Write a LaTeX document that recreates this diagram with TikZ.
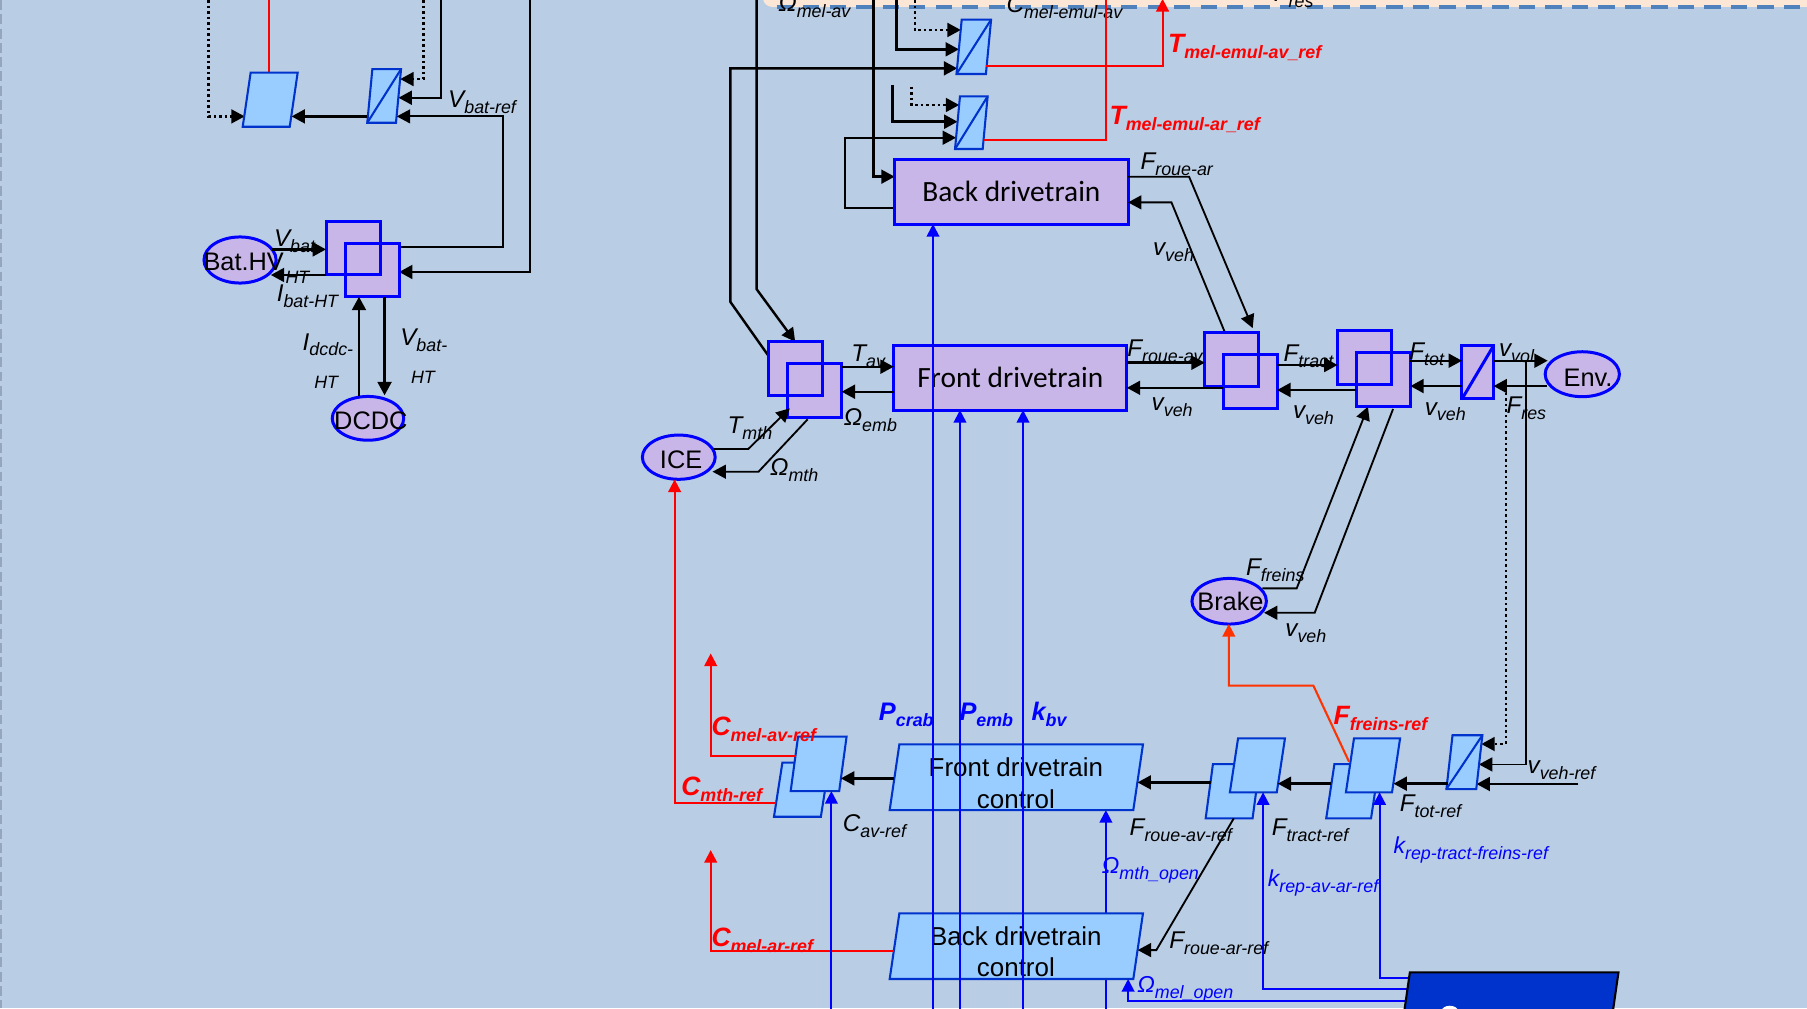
\documentclass[tikz,border=0pt]{standalone}
\usepackage{fontspec}
\setmainfont{Liberation Sans}
\newfontfamily\carl{Carlito}
\usetikzlibrary{arrows.meta,shapes.geometric}
\definecolor{bgc}{RGB}{185,205,229}
\definecolor{purp}{RGB}{200,182,232}
\definecolor{lblue}{RGB}{153,204,255}
\definecolor{pbord}{RGB}{0,0,255}
\definecolor{qbord}{RGB}{0,51,204}
\definecolor{lnblue}{RGB}{0,0,255}
\definecolor{lnred}{RGB}{255,0,0}
\definecolor{lnorange}{RGB}{255,51,0}
\definecolor{peach}{RGB}{252,231,214}
\definecolor{dashb}{RGB}{79,129,189}
\definecolor{dkblue}{RGB}{0,51,204}
\definecolor{edgegray}{RGB}{150,165,190}
\newcommand\sbs[1]{\raisebox{-2.6pt}{\fontsize{7.75}{9}\selectfont #1}}
\tikzset{
 ahead/.style={-{Triangle[length=5.8pt,width=6pt]}},
 arr/.style={ahead, line width=1.05pt},
 tline/.style={ahead, line width=0.8pt},
 dotl/.style={ahead, line width=1pt, dash pattern=on 1.1pt off 1.3pt},
 cpl/.style={draw=pbord, fill=purp, line width=1.3pt, minimum width=23.4pt, minimum height=23.4pt, inner sep=0pt, outer sep=0pt},
 pbox/.style={draw=pbord, fill=purp, line width=1.3pt, inner sep=0pt, outer sep=0pt},
 ell/.style={ellipse, draw=pbord, fill=purp, line width=1.3pt, inner sep=0pt, outer sep=0pt},
 etxt/.style={anchor=base, inner sep=0pt, font=\fontsize{11}{13}\selectfont},
 pgram/.style={draw=qbord, fill=lblue, line width=0.9pt, line join=miter},
 redl/.style={draw=lnred, line width=0.9pt, -{Triangle[length=5.5pt,width=5.5pt]}},
 bluel/.style={draw=lnblue, line width=0.9pt, -{Triangle[length=5.5pt,width=5.5pt]}},
 lbl/.style={anchor=base west, inner sep=0pt, font=\fontsize{10.5}{12}\selectfont\itshape},
 slbl/.style={lbl, font=\fontsize{7.75}{9}\selectfont\itshape},
 rlbl/.style={lbl, text=lnred, font=\fontsize{11.5}{13}\selectfont\bfseries\itshape},
 blbl/.style={lbl, text=lnblue, font=\fontsize{10}{12}\selectfont\itshape},
 bblbl/.style={lbl, text=lnblue, font=\fontsize{11}{13}\selectfont\bfseries\itshape},
 ctxt/.style={anchor=base, inner sep=0pt, font=\fontsize{11.25}{13}\selectfont},
}
% parallelogram: name, tlx, trx, ytop, ybot, shift of bottom to the left
\newcommand\pgm[6]{\draw[pgram] (#2,#4) coordinate (#1-tl) -- (#3,#4) coordinate (#1-tr) -- ({#3-#6},#5) coordinate (#1-br) -- ({#2-#6},#5) coordinate (#1-bl) -- cycle;}
\newcommand\cnv[6]{\pgm{#1}{#2}{#3}{#4}{#5}{#6}\draw[qbord, line width=0.9pt] (#1-bl) -- (#1-tr);}
\begin{document}
\begin{tikzpicture}[x=0.5pt,y=-0.5pt]
\useasboundingbox (0,0) rectangle (1568,875);
\clip (0,0) rectangle (1568,875);
\fill[bgc] (0,0) rectangle (1568,875);
\draw[edgegray, line width=0.8pt, dash pattern=on 4.3pt off 1.9pt] (0.8,0) -- (0.8,875);
% top band
\fill[peach, rounded corners=4pt] (662,-20) rectangle (1580,6);
\draw[dashb, line width=1.5pt, dash pattern=on 7pt off 4.5pt] (674,6) -- (1568,6);
\node[lbl] (tomav) at (675,10) {Ω\sbs{mel-av}};
\node[lbl] (tcme) at (873,11) {C\sbs{mel-emul-av}};
\node[lbl] (tfres) at (1105,1) {F\sbs{res}};

% ===== left cluster =====
\draw[dotl] (181,0) -- (181,101) -- (212.3,101);
\draw[redl,-] (233.5,0) -- (233.5,63);
\pgm{pa}{217.5}{258.3}{63}{110}{6.9}
\cnv{pb}{323.1}{348}{60}{106.5}{4.4}
\draw[arr] (318.6,101) -- (253,101);
\draw[dotl] (367.6,0) -- (367.6,68.6) -- (347.3,68.6);
\draw[arr] (382.5,0) -- (382.5,84.8) -- (345.8,84.8);
\draw[tline] (346.3,214.6) -- (436.6,214.6) -- (436.6,101) -- (344.3,101);
\draw[arr] (460,0) -- (460,236) -- (346.3,236);
\node[cpl] (ca) at (306.35,215.2) {};
\node[cpl] (cb) at (322.9,234.3) {};
\draw[pbord, line width=1.3pt] (ca.south west) rectangle (ca.north east);
\node[ell, minimum width=31.3pt, minimum height=20pt] (bat) at (208.3,225.6) {};
\node[etxt] (battxt) at (211.5,234.3) {Bat.HV};
\node[ell, minimum width=31pt, minimum height=19pt] (dcdc) at (319.3,363) {};
\node[etxt] (dcdctxt) at (321.8,373.1) {DCDC};
\draw[arr] (236,216.4) -- (282.9,216.4);
\draw[arr] (283,238.6) -- (235,238.6);
\draw[arr] (311.5,344) -- (311.5,257.5);
\draw[arr] (333.7,257.5) -- (333.7,343);

% ===== top middle =====
\draw[arr] (656.6,0) -- (656.6,251) -- (690,296.5);
\draw[arr] (667,309) -- (633.8,262) -- (633.8,59.3) -- (830.6,59.3);
\draw[arr] (758,0) -- (758,153.3) -- (776.3,153.3);
\draw[dotl] (794,0) -- (794,26) -- (833.7,26);
\draw[arr] (778,0) -- (778,42.8) -- (832.1,42.8);
\draw[dotl] (791,75.2) -- (791,91.1) -- (832.3,91.1);
\draw[arr] (774.6,73.8) -- (774.6,105.6) -- (830.9,105.6);
\draw[tline] (776.3,180.8) -- (733,180.8) -- (733,119.5) -- (829.6,119.5);
\cnv{pc}{834.5}{860}{17}{64.2}{4.5}
\cnv{pd}{833}{857}{83.6}{129.3}{4.3}
\draw[redl] (855.7,57.3) -- (1008.8,57.3) -- (1008.8,-1);
\draw[redl,-] (854,121.5) -- (959.6,121.5) -- (959.6,0);
\node[pbox, minimum width=101.25pt, minimum height=28.1pt, font=\carl\fontsize{12.75}{15}\selectfont] (bd) at (877.55,166.3) {Back drivetrain};
\draw[tline] (bd.east |- 0,153.3) -- (1031.8,153.3) -- (1087,284.7);
\draw[tline] (1062.7,288) -- (1016.5,175.6) -- (bd.east |- 0,175.6);

% ===== front drivetrain row =====
\node[cpl] (da) at (690.3,319.9) {};
\node[cpl] (db) at (706.95,339) {};
\draw[pbord, line width=1.3pt] (da.south west) rectangle (da.north east);
\node[pbox, minimum width=101.15pt, minimum height=27.9pt, font=\carl\fontsize{12.75}{15}\selectfont] (fd) at (876.65,327.9) {Front drivetrain};
\node[ell, minimum width=31.6pt, minimum height=19.2pt] (ice) at (589,396.7) {};
\node[etxt] (icetxt) at (591,406.4) {ICE};
\draw[arr] (db.east |- 0,318.2) -- (fd.west |- 0,318.2);
\draw[arr] (fd.west |- 0,339.9) -- (db.east |- 0,339.9);
\draw[tline] (619.4,389.6) -- (649.3,389.6) -- (685.3,354.3);
\draw[tline] (700.8,363.9) -- (658.2,409.3) -- (618.3,409.3);

\node[cpl] (cc) at (1068.85,311.95) {};
\node[cpl] (cd) at (1084.8,331.2) {};
\draw[pbord, line width=1.3pt] (cc.south west) rectangle (cc.north east);
\node[cpl] (ce) at (1184.05,310.1) {};
\node[cpl] (cf) at (1200.4,329.05) {};
\draw[pbord, line width=1.3pt] (ce.south west) rectangle (ce.north east);
\draw[arr] (fd.east |- 0,314.7) -- (cc.west |- 0,314.7);
\draw[arr] (cd.west |- 0,336.5) -- (fd.east |- 0,336.5);
\draw[arr] (cd.east |- 0,316.7) -- (ce.west |- 0,316.7);
\draw[arr] (cf.west |- 0,338.4) -- (cd.east |- 0,338.4);
\node[pbox, minimum width=13.7pt, minimum height=23.1pt] (sz) at (1282.3,323.1) {};
\draw[pbord, line width=1.3pt] (sz.south west) -- (sz.north east);
\node[ell, minimum width=32.2pt, minimum height=19.5pt] (env) at (1373,324.7) {};
\node[etxt] (envtxt) at (1378,335) {Env.};
\draw[arr] (cf.east |- 0,313) -- (sz.west |- 0,313);
\draw[arr] (sz.west |- 0,335) -- (cf.east |- 0,335);
\draw[arr] (sz.east |- 0,313) -- (1343,313);
\draw[arr] (1342,335) -- (sz.east |- 0,335);
\node[ell, minimum width=32.3pt, minimum height=19.8pt] (brake) at (1066.6,521.7) {};
\node[etxt] (braketxt) at (1067.7,530) {Brake};
\draw[tline] (1095.4,510.5) -- (1125.2,510.5) -- (1187,352.9);
\draw[tline] (1208.8,354.9) -- (1140.8,531.7) -- (1096.8,531.7);

% ===== controls =====
\draw[dotl] (1306.5,336) -- (1306.5,645.6) -- (1285.4,645.6);
\draw[tline] (1324.5,313) -- (1324.5,663.3) -- (1283.3,663.3);
\draw[arr] (1369.5,680.3) -- (1281.3,680.3);
\cnv{sv}{1260.4}{1286.3}{638}{684.7}{5.3}
\pgm{ra}{1157.9}{1196.8}{663}{710.1}{7.1}
\pgm{rb}{1174.9}{1214.9}{640.7}{687.5}{7.0}
\pgm{qa}{1052.5}{1093.2}{663}{710.1}{6.3}
\pgm{qb}{1074.3}{1115}{640.7}{687.5}{7.1}
\draw[arr] (1256.4,680) -- (1209.2,680);
\draw[arr] (1155.3,680) -- (1108.8,680);
\draw[draw=lnorange, line width=0.9pt, -{Triangle[length=5.5pt,width=5.5pt]}] (1170.6,661) -- (1139.7,595) -- (1066.3,595) -- (1066.3,541.5);

\draw[bluel] (959.6,880) -- (959.6,702.9);
\pgm{fc}{780.4}{991.8}{645.9}{702.9}{8.4}
\node[ctxt] (fct1) at (881.5,674) {Front drivetrain};
\node[ctxt] (fct2) at (881.5,701.4) {control};
\pgm{bc}{780.4}{991.8}{792.5}{849.5}{8.4}
\node[ctxt] (bct1) at (881.5,820) {Back drivetrain};
\node[ctxt] (bct2) at (881.5,847.5) {control};
\draw[arr] (1050.4,678.9) -- (987.1,678.9);
\draw[tline] (1070.6,710.1) -- (1003.4,824.4) -- (987.2,824.4);

\pgm{pe}{678.9}{719.6}{661.8}{708.7}{7.3}
\pgm{pf}{692.5}{734.6}{639.2}{686.4}{6.4}
\draw[arr] (775.9,675.4) -- (729.7,675.4);
\draw[redl] (690.3,655.7) -- (616.7,655.7) -- (616.7,567);
\draw[redl] (673.4,697.1) -- (585.4,697.1) -- (585.4,416);
\draw[redl] (775.4,825) -- (616.7,825) -- (616.7,737.6);

% blue lines
\draw[bluel] (721.4,880) -- (721.4,686.4);
\draw[bluel] (809.6,880) -- (bd.south -| 809.6,0);
\draw[bluel] (833,880) -- (fd.south -| 833,0);
\draw[bluel] (887.7,880) -- (fd.south -| 887.7,0);
\draw[bluel] (1222.6,849) -- (1197.1,849) -- (1197.1,687.5);
\draw[bluel] (1221.3,858.5) -- (1096,858.5) -- (1096,687.5);
\draw[bluel] (1219.9,868.3) -- (978.9,868.3) -- (978.9,849.5);
\draw[fill=dkblue, draw=black, line width=0.9pt] (1223.4,843.7) coordinate (sb-tl) -- (1404.4,843.7) -- (1398.6,884) -- (1217.6,884) -- cycle;
\fill[white] (1258,877.5) ellipse [x radius=3.6pt, y radius=2.4pt];

% ===== labels =====
\node[lbl] (l1) at (388.5,93.1) {V\sbs{bat-ref}};
\node[lbl] (l2) at (237.4,213.5) {V\sbs{bat}};
\node[slbl] (l2b) at (247.4,245.9) {HT};
\node[lbl] (l3) at (239.8,261.8) {I\sbs{bat-HT}};
\node[lbl] (l4) at (262.3,303.7) {I\sbs{dcdc-}};
\node[slbl] (l4b) at (272.3,337) {HT};
\node[lbl] (l5) at (347,299.4) {V\sbs{bat-}};
\node[slbl] (l5b) at (356.3,332.6) {HT};
\node[lbl] (l6) at (989.3,147.5) {F\sbs{roue-ar}};
\node[lbl] (l7) at (1000.2,221.3) {v\sbs{veh}};
\node[lbl] (l8) at (738.4,313.8) {T\sbs{av}};
\node[lbl] (l9) at (731.8,368.8) {Ω\sbs{emb}};
\node[lbl] (l10) at (631,376) {T\sbs{mth}};
\node[lbl] (l11) at (667.9,412.2) {Ω\sbs{mth}};
\node[lbl] (l12) at (977.8,309.5) {F\sbs{roue-av}};
\node[lbl] (l13) at (999,355.8) {v\sbs{veh}};
\node[lbl] (l14) at (1113.5,313.8) {F\sbs{tract}};
\node[lbl] (l15) at (1121.6,363) {v\sbs{veh}};
\node[lbl] (l16) at (1222.6,311.8) {F\sbs{tot}};
\node[lbl] (l17) at (1236,360.1) {v\sbs{veh}};
\node[lbl] (l18) at (1300.4,309.5) {v\sbs{vol}};
\node[lbl] (l19) at (1306.9,358.7) {F\sbs{res}};
\node[lbl] (l20) at (1080.8,499) {F\sbs{freins}};
\node[lbl] (l21) at (1115,552.5) {v\sbs{veh}};
\node[lbl] (l22) at (731,721.7) {C\sbs{av-ref}};
\node[lbl] (l23) at (979.9,724.6) {F\sbs{roue-av-ref}};
\node[lbl] (l24) at (1103.3,724.6) {F\sbs{tract-ref}};
\node[lbl] (l25) at (1214.2,704.3) {F\sbs{tot-ref}};
\node[lbl] (l26) at (1325.2,671) {v\sbs{veh-ref}};
\node[lbl] (l27) at (1014.3,822.9) {F\sbs{roue-ar-ref}};
\node[blbl] (l28) at (955.8,757.8) {Ω\sbs{mth\_open}};
\node[blbl] (l29) at (1099.7,769.4) {k\sbs{rep-av-ar-ref}};
\node[blbl] (l30) at (1208.8,740.5) {k\sbs{rep-tract-freins-ref}};
\node[blbl] (l31) at (986.5,861) {Ω\sbs{mel\_open}};
\node[bblbl] (l32) at (762.3,624.8) {P\sbs{crab}};
\node[bblbl] (l33) at (832.2,624.8) {P\sbs{emb}};
\node[bblbl] (l34) at (894.7,624.8) {k\sbs{bv}};
\node[rlbl] (l35) at (1013.2,45.7) {T\sbs{mel-emul-av\_ref}};
\node[rlbl] (l36) at (962.4,107.6) {T\sbs{mel-emul-ar\_ref}};
\node[rlbl] (l37) at (617,637.8) {C\sbs{mel-av-ref}};
\node[rlbl] (l38) at (590.8,690.7) {C\sbs{mth-ref}};
\node[rlbl] (l39) at (617,821.5) {C\sbs{mel-ar-ref}};
\node[rlbl] (l40) at (1156.8,628.3) {F\sbs{freins-ref}};
\end{tikzpicture}
\end{document}
